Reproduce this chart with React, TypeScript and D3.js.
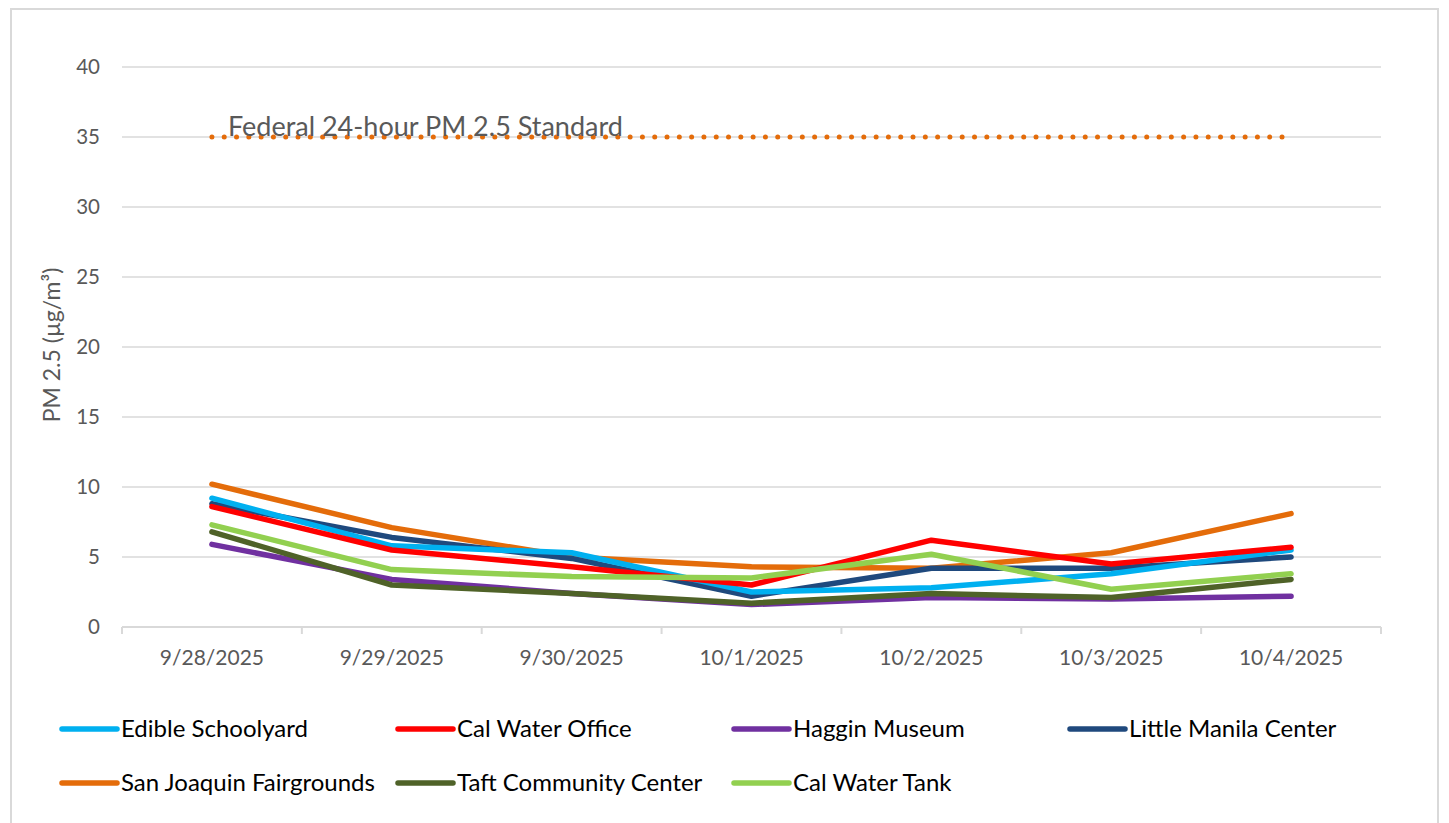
import React from "react";
import * as d3 from "d3";

// dates on the x axis
const dates = ["9/28/2025", "9/29/2025", "9/30/2025", "10/1/2025", "10/2/2025", "10/3/2025", "10/4/2025"];

// daily average PM 2.5 per site (µg/m³)
const edibleSchoolyard = [9.2, 5.8, 5.3, 2.5, 2.8, 3.8, 5.5];
const calWaterOffice = [8.6, 5.5, 4.3, 3.0, 6.2, 4.5, 5.7];
const hagginMuseum = [5.9, 3.4, 2.4, 1.6, 2.1, 2.0, 2.2];
const littleManila = [8.8, 6.4, 4.9, 2.2, 4.2, 4.2, 5.0];
const sanJoaquin = [10.2, 7.1, 5.0, 4.3, 4.2, 5.3, 8.1];
const taftCenter = [6.8, 3.0, 2.4, 1.7, 2.4, 2.1, 3.4];
const calWaterTank = [7.3, 4.1, 3.6, 3.5, 5.2, 2.7, 3.8];

// federal standard, drawn as a dotted series
const federalStandard = [35, 35, 35, 35, 35, 35, 35];

const yTicks = [0, 5, 10, 15, 20, 25, 30, 35, 40];

const series = [
  { name: "Edible Schoolyard", values: edibleSchoolyard, color: "#00B0F0" },
  { name: "Cal Water Office", values: calWaterOffice, color: "#FF0000" },
  { name: "Haggin Museum", values: hagginMuseum, color: "#7030A0" },
  { name: "Little Manila Center", values: littleManila, color: "#1F497D" },
  { name: "San Joaquin Fairgrounds", values: sanJoaquin, color: "#E46C0A" },
  { name: "Taft Community Center", values: taftCenter, color: "#4F6228" },
  { name: "Cal Water Tank", values: calWaterTank, color: "#92D050" },
];

// draw order in the plot (back to front)
const drawOrder = [4, 3, 0, 1, 6, 2, 5];

const W = 1449;
const H = 823;
const margin = { top: 67, right: 68, bottom: 196, left: 122 };
const font = "Lato, 'Open Sans', sans-serif";
const textGray = "#595959";

export default function App() {
  const x = d3
    .scaleBand<string>()
    .domain(dates)
    .range([margin.left, W - margin.right])
    .padding(0);

  const y = d3
    .scaleLinear()
    .domain([0, 40])
    .range([H - margin.bottom, margin.top]);

  const cx = (d: string) => (x(d) as number) + x.bandwidth() / 2;

  const line = d3
    .line<number>()
    .x((_, i) => cx(dates[i]))
    .y((v) => y(v));

  const boundaries = [...dates.map((d) => x(d) as number), x.range()[1]];
  const y0 = y(0);

  const legendX = (col: number) => 62 + col * 336;
  const legendY = (row: number) => 729 + row * 54;

  return (
    <div style={{ position: "absolute", left: 0, top: 0 }}>
      <svg width={W} height={H} style={{ display: "block", background: "#fff" }}>
        {/* chart frame */}
        <rect x={11} y={9} width={1427} height={H + 10} fill="#fff" stroke="#D9D9D9" strokeWidth={2} />

        {/* gridlines */}
        {yTicks.map((t) => (
          <line
            key={t}
            x1={x.range()[0]}
            x2={x.range()[1]}
            y1={y(t)}
            y2={y(t)}
            stroke="#D9D9D9"
            strokeWidth={1.5}
          />
        ))}

        {/* y tick labels */}
        {yTicks.map((t) => (
          <text
            key={t}
            x={100}
            y={y(t)}
            dy="0.35em"
            textAnchor="end"
            fontFamily={font}
            fontSize={20.5}
            fill={textGray}
          >
            {t}
          </text>
        ))}

        {/* x axis */}
        <line x1={x.range()[0]} x2={x.range()[1]} y1={y0} y2={y0} stroke="#D9D9D9" strokeWidth={2} />
        {boundaries.map((b, i) => (
          <line key={i} x1={b} x2={b} y1={y0} y2={y0 + 7} stroke="#D9D9D9" strokeWidth={2} />
        ))}
        {dates.map((d) => (
          <text
            key={d}
            x={cx(d)}
            y={y0 + 38}
            textAnchor="middle"
            fontFamily={font}
            fontSize={21}
            fill={textGray}
          >
            {d}
          </text>
        ))}

        {/* y axis title */}
        <text
          transform={`translate(60, ${(y(0) + y(40)) / 2 - 2}) rotate(-90)`}
          textAnchor="middle"
          fontFamily={font}
          fontSize={23}
          fill={textGray}
        >
          PM 2.5 (µg/m³)
        </text>

        {/* federal standard */}
        <path
          d={line(federalStandard) ?? ""}
          fill="none"
          stroke="#E46C0A"
          strokeWidth={5}
          strokeLinecap="round"
          strokeDasharray="0 12.3"
        />
        <text
          x={cx(dates[0]) + 16}
          y={y(35) - 1}
          fontFamily={font}
          fontSize={27}
          fill={textGray}
        >
          Federal 24-hour PM 2.5 Standard
        </text>

        {/* site series */}
        {drawOrder.map((i) => (
          <path
            key={series[i].name}
            d={line(series[i].values) ?? ""}
            fill="none"
            stroke={series[i].color}
            strokeWidth={5.5}
            strokeLinecap="round"
            strokeLinejoin="round"
          />
        ))}

        {/* legend */}
        {series.map((s, i) => {
          const col = i % 4;
          const row = Math.floor(i / 4);
          const lx = legendX(col);
          const ly = legendY(row);
          return (
            <g key={s.name}>
              <line x1={lx} x2={lx + 55} y1={ly} y2={ly} stroke={s.color} strokeWidth={5.5} strokeLinecap="round" />
              <text x={lx + 59} y={ly} dy="0.35em" fontFamily={font} fontSize={24} fill="#000">
                {s.name}
              </text>
            </g>
          );
        })}
      </svg>
    </div>
  );
}
